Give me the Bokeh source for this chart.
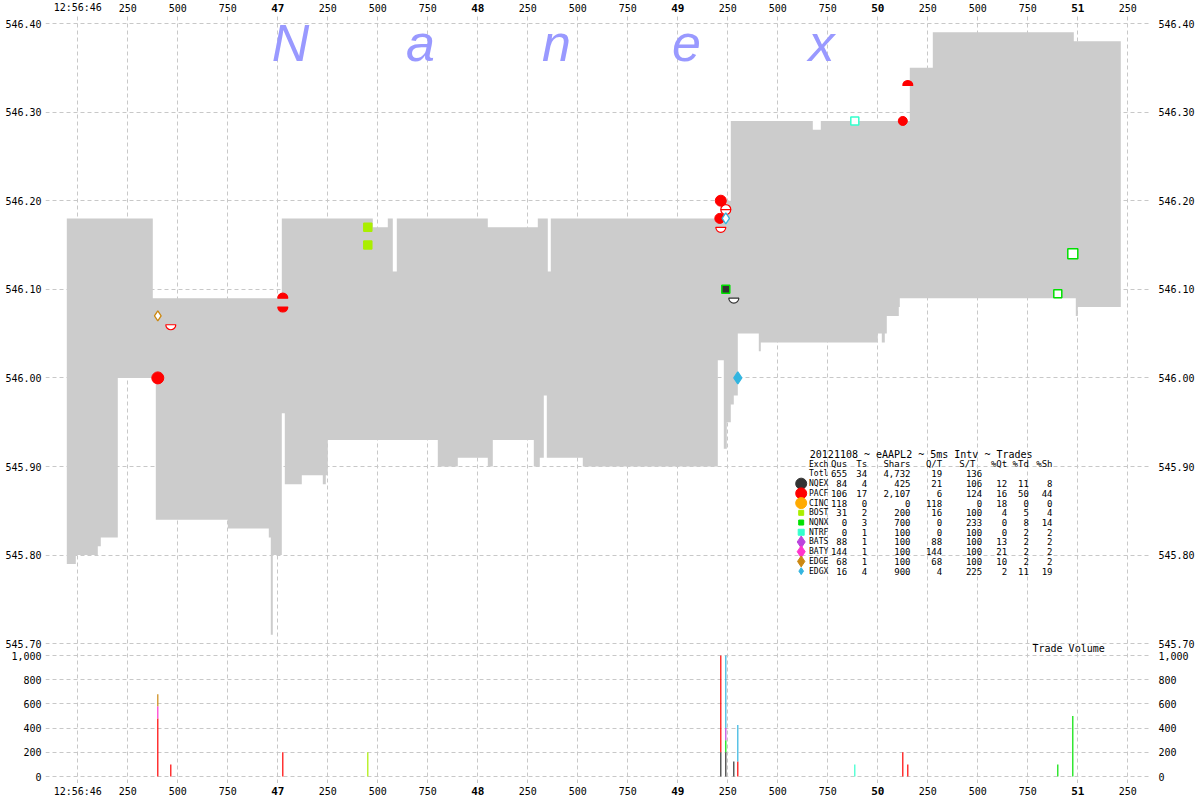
import numpy as np
from bokeh.plotting import figure
from bokeh.layouts import column
from bokeh.models import (Range1d, LinearAxis, FixedTicker, PrintfTickFormatter,
                          Grid, Label, ColumnDataSource)
from bokeh.core.properties import value
from bokeh.embed import file_html
from bokeh.resources import INLINE

# ---------------- data (time = ms after 12:56:46.000) ----------------
# upper edge of the quote band (step function)
high_ms = [-55, 375, 1020, 1475, 1550, 1575, 1595, 2050, 2300, 2350, 2365,
           3200, 3215, 3265, 3675, 3715, 4160, 4275, 4980]
high_price = [546.18, 546.09, 546.18, 546.17, 546.18, 546.12, 546.18, 546.17, 546.18, 546.12, 546.18,
              546.18, 546.20, 546.29, 546.28, 546.29, 546.35, 546.39, 546.38]
# lower edge of the quote band (step function)
low_ms = [-55, -10, 100, 115, 200, 390, 750, 955, 965, 975, 1020, 1035, 1120, 1225, 1240, 1250,
          1800, 1900, 2050, 2075, 2280, 2310, 2330, 2345, 2525, 3200, 3230, 3245, 3265, 3280,
          3300, 3405, 3415, 4000, 4020, 4035, 4045, 4105, 4110, 4990, 5000]
low_price = [545.79, 545.80, 545.81, 545.82, 546.00, 545.84, 545.83, 545.82, 545.71, 545.80, 545.96,
             545.88, 545.89, 545.88, 545.89, 545.93, 545.90, 545.91, 545.90, 545.93, 545.90, 545.91,
             545.98, 545.91, 545.90, 546.02, 545.92, 545.95, 545.97, 545.98, 546.05, 546.03, 546.04,
             546.05, 546.04, 546.05, 546.07, 546.08, 546.09, 546.07, 546.08]
band_end_ms = 5215

exchanges = ["NQEX", "PACF", "CINC", "BOST", "NQNX", "NTRF", "BATS", "BATY", "EDGE", "EDGX"]
exch_colors = ["#333333", "#ff0000", "#ffaa00", "#aaee00", "#00e000", "#33ffcc",
               "#bb44dd", "#ff33cc", "#cc8811", "#33b5e0"]
legend_marker = ["circle", "circle", "circle", "square", "square", "square",
                 "diamond", "diamond", "diamond", "diamond"]
legend_size = [11, 11, 11, 5, 5, 6, 12, 12, 11, 7]

# table values
qus = [84, 106, 118, 31, 0, 0, 88, 144, 68, 16]
ts = [4, 17, 0, 2, 3, 1, 1, 1, 1, 4]
shars = [425, 2107, 0, 200, 700, 100, 100, 100, 100, 900]
q_per_t = [21, 6, 118, 16, 0, 0, 88, 144, 68, 4]
s_per_t = [106, 124, 0, 100, 233, 100, 100, 100, 100, 225]
pct_qt = [12, 16, 18, 4, 0, 0, 13, 21, 10, 2]
pct_td = [11, 50, 0, 5, 8, 2, 2, 2, 2, 11]
pct_sh = [8, 44, 0, 4, 14, 2, 2, 2, 2, 19]
totals = [655, 34, 4732, 19, 136]

# trades (volume panel)
trade_ms = [400, 400, 400, 465, 1025, 1450, 3215, 3215, 3240, 3240, 3240, 3240,
            3280, 3300, 3300, 3885, 4125, 4150, 4900, 4975]
trade_exch = ["PACF", "BATY", "EDGE", "PACF", "PACF", "BOST", "NQEX", "PACF", "NQEX", "NQNX", "BATS", "EDGX",
              "NQEX", "PACF", "EDGX", "NTRF", "PACF", "PACF", "NQNX", "NQNX"]
trade_shares = [480, 100, 100, 100, 200, 200, 200, 800, 200, 100, 100, 600,
                125, 125, 300, 100, 200, 100, 100, 500]

# markers on the price panel
circ_ms = [400, 3210, 3215, 4125]
circ_price = [546.00, 546.18, 546.20, 546.29]
circ_exch = ["PACF", "PACF", "PACF", "PACF"]
circ_size = [12, 10, 11, 9]

dia_ms = [400, 3240, 3300]
dia_price = [546.07, 546.18, 546.00]
dia_exch = ["EDGE", "EDGX", "EDGX"]
dia_filled = [False, False, True]
dia_size = [10, 11, 12]

sq_ms = [1450, 1450, 3240, 3885, 4900, 4975]
sq_price = [546.17, 546.15, 546.10, 546.29, 546.095, 546.14]
sq_line_exch = ["BOST", "BOST", "NQNX", "NTRF", "NQNX", "NQNX"]
sq_fill_exch = ["BOST", "BOST", "NQEX", None, None, None]
sq_size = [8, 8, 8, 8, 8, 10]

half_ms = [465, 1025, 1025, 3215, 3240, 3240, 3280, 4150]
half_price = [546.06, 546.09, 546.08, 546.17, 546.19, 546.19, 546.09, 546.33]
half_side = ["bottom", "top", "bottom", "bottom", "top", "bottom", "bottom", "top"]
half_filled = [False, True, True, False, False, False, False, True]
half_exch = ["PACF", "PACF", "PACF", "PACF", "PACF", "PACF", "NQEX", "PACF"]

price_ticks = [545.70, 545.80, 545.90, 546.00, 546.10, 546.20, 546.30, 546.40]
vol_ticks = [0, 200, 400, 600, 800, 1000]
time_ticks = list(range(0, 5251, 250))
sec_ticks = [t for t in time_ticks if t % 1000 == 0 and t != 0]
sub_ticks = [t for t in time_ticks if t not in sec_ticks]
sub_labels = ["12:56:46" if t == 0 else str(t % 1000) for t in sub_ticks]
sec_labels = [str(46 + t // 1000) for t in sec_ticks]

# ---------------- layout constants (page px; page origin = layout origin) ----------------
FIG_W = 1200
BORDER_L, BORDER_R = 45, 50
FRAME_TOP, FRAME_BOTTOM, PAGE_H = 14, 783, 800
MONO = "DejaVu Sans Mono"
GRID_COLOR = "#c8c8c8"
color_of = dict(zip(exchanges, exch_colors))


def ms_at(page_x):
    return (page_x - 77.3) * 5.0


def price_at(page_y):
    return 546.40 - (page_y - 23.0) / 886.0


def vol_at(page_y):
    return (776.0 - page_y) / 0.121


xr = Range1d(ms_at(BORDER_L), ms_at(FIG_W - BORDER_R))
yr = Range1d(price_at(FRAME_BOTTOM), price_at(FRAME_TOP))
vr = Range1d(vol_at(FRAME_BOTTOM), vol_at(FRAME_TOP))


def bare_fig(height, y_range, **kw):
    f = figure(width=FIG_W, height=height, x_range=xr, y_range=y_range, output_backend="svg",
               toolbar_location=None, x_axis_location=None, y_axis_location=None,
               min_border_left=BORDER_L, min_border_right=BORDER_R, min_border_top=0,
               min_border_bottom=0, outline_line_color=None,
               background_fill_color="white", border_fill_color="white", **kw)
    f.center = [r for r in f.center if not isinstance(r, Grid)]
    return f


# ---------------- main plot (price + volume share one frame) ----------------
p = bare_fig(FRAME_BOTTOM - FRAME_TOP, yr, extra_y_ranges={"vol": vr})

# one axis per side: price ticks, plus the volume ticks placed where the volume scale puts them
vol_tick_pos = [price_at(776.0 - 0.121 * v) for v in vol_ticks]
axis_ticks = price_ticks + vol_tick_pos
axis_overrides = {pos: f"{v:,}" for pos, v in zip(vol_tick_pos, vol_ticks)}
for side, so in (("left", 4), ("right", 8)):
    ax = LinearAxis(ticker=FixedTicker(ticks=axis_ticks), formatter=PrintfTickFormatter(format="%.2f"),
                    major_label_overrides=axis_overrides)
    ax.axis_line_color = None
    ax.major_tick_line_color = None
    ax.minor_tick_line_color = None
    ax.major_tick_in = 0
    ax.major_tick_out = 0
    ax.major_label_standoff = so
    ax.major_label_text_font = MONO
    ax.major_label_text_font_size = "10px"
    ax.major_label_text_color = "black"
    p.add_layout(ax, side)

# grids
p.add_layout(Grid(dimension=0, ticker=FixedTicker(ticks=time_ticks), grid_line_color=GRID_COLOR,
                  grid_line_dash="4 3"))
p.add_layout(Grid(dimension=1, ticker=FixedTicker(ticks=price_ticks), grid_line_color=GRID_COLOR,
                  grid_line_dash="4 3"))
p.add_layout(Grid(dimension=1, ticker=FixedTicker(ticks=vol_ticks), y_range_name="vol",
                  grid_line_color=GRID_COLOR, grid_line_dash="4 3"))

# quote band
bp = sorted(set(high_ms) | set(low_ms))
hi_idx = np.searchsorted(high_ms, bp, side="right") - 1
lo_idx = np.searchsorted(low_ms, bp, side="right") - 1
band_x = bp + [band_end_ms]
band_hi = [high_price[i] for i in hi_idx] + [high_price[hi_idx[-1]]]
band_lo = [low_price[i] for i in lo_idx] + [low_price[lo_idx[-1]]]
p.varea_step(x=band_x, y1=band_lo, y2=band_hi, step_mode="after", fill_color="#cccccc")

# watermark
for letter, cx in zip(["N", "a", "n", "e", "x"], [290, 420, 556, 686, 821]):
    p.add_layout(Label(x=cx - BORDER_L, y=FRAME_BOTTOM - 42, x_units="screen", y_units="screen",
                       text=letter, text_font="Liberation Sans", text_font_style="italic",
                       text_font_size="52px", text_color="#9999ff", text_align="center",
                       text_baseline="middle"))

# half-circle markers
hs = ColumnDataSource(dict(
    x=half_ms, y=half_price,
    a0=[0.0 if s == "top" else np.pi for s in half_side],
    a1=[np.pi if s == "top" else 2 * np.pi for s in half_side],
    fc=[color_of[e] if f else "white" for e, f in zip(half_exch, half_filled)],
    lc=[color_of[e] for e in half_exch]))
p.wedge(x="x", y="y", radius=5, radius_units="screen", start_angle="a0", end_angle="a1",
        fill_color="fc", line_color="lc", line_width=1.2, source=hs)

p.scatter(x=circ_ms, y=circ_price, size=circ_size, marker="circle",
          fill_color=[color_of[e] for e in circ_exch], line_color=[color_of[e] for e in circ_exch])
p.scatter(x=dia_ms, y=dia_price, size=dia_size, marker="diamond",
          fill_color=[color_of[e] if f else "white" for e, f in zip(dia_exch, dia_filled)],
          line_color=[color_of[e] for e in dia_exch], line_width=1.3)
p.scatter(x=sq_ms, y=sq_price, size=sq_size, marker="square",
          fill_color=[color_of[e] if e else "white" for e in sq_fill_exch],
          line_color=[color_of[e] for e in sq_line_exch], line_width=1.5)

# volume bars (stacked per time in exchange order)
order = {e: i for i, e in enumerate(exchanges)}
idx = sorted(range(len(trade_ms)), key=lambda k: (trade_ms[k], order[trade_exch[k]]))
vb_x, vb_bot, vb_top, vb_col = [], [], [], []
cum = {}
for k in idx:
    t = trade_ms[k]
    b = cum.get(t, 0)
    vb_x.append(t)
    vb_bot.append(b)
    vb_top.append(b + trade_shares[k])
    vb_col.append(color_of[trade_exch[k]])
    cum[t] = b + trade_shares[k]
p.vbar(x=vb_x, width=6, bottom=vb_bot, top=vb_top, fill_color=vb_col, line_color=None,
       y_range_name="vol")


# stats table
def tlabel(page_x, page_y, text, align="left", size="9px"):
    p.add_layout(Label(x=page_x - BORDER_L, y=FRAME_BOTTOM - page_y, x_units="screen",
                       y_units="screen", text=text, text_font=MONO, text_font_size=size,
                       text_align=align, text_baseline="middle", text_color="black"))


row_y = [454 + 9.72 * i for i in range(13)]
tlabel(809.3, row_y[0], "20121108 ~ eAAPL2 ~ 5ms Intv ~ Trades", size="10px")
head_right = [846.7, 866.7, 910, 941.7, 975, 1006.7, 1028.3, 1052]
col_right = [846.7, 866.7, 910, 941.7, 981.7, 1006.7, 1028.3, 1052]
tlabel(808.5, row_y[1], "Exch", size="8px")
for name, rx in zip(["Qus", "Ts", "Shars", "Q/T", "S/T", "%Qt", "%Td", "%Sh"], head_right):
    tlabel(rx, row_y[1], name, "right")
tlabel(808.5, row_y[2], "Totl", size="8px")
for v, rx in zip(totals, col_right):
    tlabel(rx, row_y[2], f"{v:,}", "right")
for i, ex in enumerate(exchanges):
    y = row_y[3 + i]
    tlabel(808.5, y, ex, size="8px")
    vals = [qus[i], ts[i], shars[i], q_per_t[i], s_per_t[i], pct_qt[i], pct_td[i], pct_sh[i]]
    for v, rx in zip(vals, col_right):
        tlabel(rx, y, f"{v:,}", "right")
p.scatter(x=[ms_at(800.7)] * len(exchanges), y=[price_at(y) for y in row_y[3:]],
          marker=legend_marker, size=legend_size, fill_color=exch_colors, line_color=exch_colors)

tlabel(1032, 647.5, "Trade Volume", size="10px")


# ---------------- time-label strips above and below ----------------
def time_strip(page_top, page_bottom, label_y):
    s = bare_fig(page_bottom - page_top, Range1d(page_bottom, page_top))
    s.text(x=sub_ticks, y=[label_y] * len(sub_ticks), text=sub_labels, text_font=value(MONO),
           text_font_size="10px", text_align="center", text_baseline="middle", text_color="black")
    s.text(x=sec_ticks, y=[label_y] * len(sec_ticks), text=sec_labels, text_font=value(MONO),
           text_font_size="11px", text_font_style="bold", text_align="center",
           text_baseline="middle", text_color="black")
    return s


top_strip = time_strip(0, FRAME_TOP, 7)
bottom_strip = time_strip(FRAME_BOTTOM, PAGE_H, 790.5)

layout = column(top_strip, p, bottom_strip, spacing=0)
open("out.html", "w").write(file_html(layout, INLINE))
